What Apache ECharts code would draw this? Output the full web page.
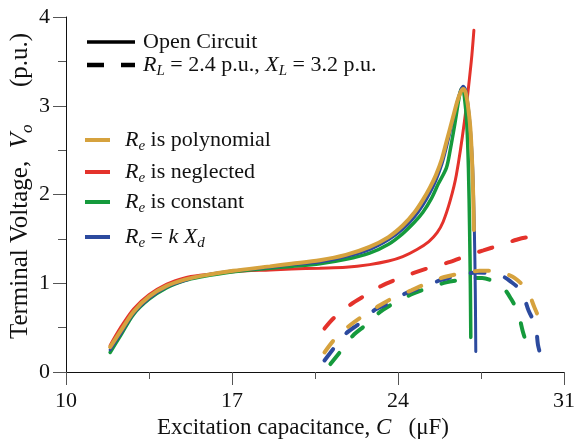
<!DOCTYPE html>
<html>
<head>
<meta charset="utf-8">
<script src="https://cdn.jsdelivr.net/npm/echarts@6/dist/echarts.min.js"></script>
<style>
html,body{margin:0;padding:0;background:#fff;}
#chart{width:577px;height:440px;}
</style>
</head>
<body>
<div id="chart"></div>
<script>
// ---- axis ticks ----
const xTicks = [10, 17, 24, 31];
const yTicks = [0, 1, 2, 3, 4];

// ---- open circuit (solid) curves: [C (uF), Vo (p.u.)] ----
const ocPolynomial = [[11.86,0.28],[12.3,0.46],[12.85,0.68],[13.5,0.85],[14.25,0.97],[15.0,1.04],[15.65,1.08],[17.05,1.14],[18.6,1.19],[19.5,1.22],[20.7,1.26],[21.8,1.32],[22.8,1.41],[23.6,1.52],[24.2,1.65],[24.7,1.80],[25.05,1.94],[25.35,2.08],[25.6,2.22],[25.85,2.40],[26.05,2.60],[26.3,2.85],[26.5,3.05],[26.65,3.16],[26.75,3.19],[26.85,3.15],[26.95,3.00],[27.05,2.75],[27.12,2.40],[27.17,2.00],[27.2,1.60]];
const ocNeglected = [[11.86,0.30],[12.3,0.50],[12.85,0.71],[13.5,0.87],[14.25,0.99],[15.0,1.06],[15.65,1.09],[17.05,1.13],[18.6,1.15],[19.5,1.16],[20.7,1.17],[21.8,1.18],[22.8,1.21],[23.6,1.25],[24.2,1.30],[24.8,1.38],[25.3,1.47],[25.65,1.57],[25.9,1.69],[26.2,1.93],[26.46,2.22],[26.8,2.82],[27.09,3.50],[27.2,3.85]];
const ocConstant = [[11.86,0.22],[12.3,0.41],[12.85,0.65],[13.5,0.82],[14.25,0.95],[15.0,1.03],[15.65,1.07],[17.05,1.13],[18.6,1.17],[19.5,1.19],[20.7,1.22],[21.8,1.27],[22.8,1.34],[23.6,1.44],[24.2,1.56],[24.7,1.69],[25.05,1.80],[25.4,1.95],[25.7,2.12],[26.04,2.30],[26.2,2.50],[26.4,2.80],[26.55,3.05],[26.65,3.18],[26.72,3.20],[26.8,3.10],[26.9,2.80],[26.97,2.30],[27.02,1.60],[27.05,1.00],[27.07,0.39]];
const ocKXd = [[11.86,0.25],[12.3,0.43],[12.85,0.66],[13.5,0.83],[14.25,0.96],[15.0,1.03],[15.65,1.08],[17.05,1.14],[18.6,1.18],[19.5,1.21],[20.7,1.24],[21.8,1.30],[22.8,1.38],[23.6,1.49],[24.2,1.61],[24.7,1.75],[25.05,1.88],[25.35,2.02],[25.6,2.16],[25.85,2.34],[26.05,2.54],[26.3,2.82],[26.5,3.05],[26.65,3.18],[26.75,3.22],[26.85,3.18],[26.95,3.02],[27.05,2.75],[27.15,2.30],[27.22,1.60],[27.26,0.90],[27.28,0.23]];

// ---- loaded (dashed) curves, RL = 2.4 p.u., XL = 3.2 p.u. ----
const ldPolynomial = [[20.9,0.22],[21.3,0.36],[21.9,0.51],[22.46,0.62],[23.16,0.74],[23.76,0.83],[24.56,0.92],[25.16,0.99],[25.96,1.07],[26.67,1.11],[27.1,1.13],[27.44,1.14],[28.14,1.14],[28.5,1.11],[28.91,1.06],[29.43,0.93],[29.75,0.73],[29.99,0.58]];
const ldNeglected = [[20.9,0.49],[21.3,0.61],[22.0,0.76],[22.6,0.86],[23.3,0.97],[23.9,1.04],[24.7,1.12],[25.4,1.18],[26.2,1.24],[26.9,1.31],[27.6,1.37],[28.3,1.43],[29.0,1.49],[29.4,1.515],[29.75,1.52]];
const ldConstant = [[21.15,0.09],[21.57,0.23],[22.1,0.41],[22.64,0.53],[23.26,0.68],[23.86,0.78],[24.6,0.88],[25.22,0.94],[26.03,1.01],[26.7,1.04],[27.1,1.06],[27.55,1.06],[28.17,1.00],[28.5,0.93],[28.73,0.84],[29.05,0.68],[29.26,0.46],[29.47,0.28]];
const ldKXd = [[20.9,0.13],[21.3,0.27],[21.83,0.44],[22.39,0.55],[23.02,0.70],[23.65,0.78],[24.35,0.89],[24.98,0.95],[25.85,1.04],[26.6,1.09],[27.3,1.12],[28.0,1.11],[28.4,1.08],[28.7,1.03],[29.2,0.91],[29.51,0.69],[29.8,0.52],[29.9,0.31],[29.99,0.21]];

const FONT = '"Liberation Serif", "Times New Roman", Times, "DejaVu Serif", serif';
const C_GOLD = '#D6A23E', C_RED = '#E4322B', C_GREEN = '#159A3C', C_BLUE = '#2C4A9E';

function makeRich(fs, sfs, lh) {
  return {
    n: {fontFamily: FONT, fontSize: fs, color: '#111', lineHeight: lh},
    i: {fontFamily: FONT, fontSize: fs, color: '#111', fontStyle: 'italic', lineHeight: lh},
    s: {fontFamily: FONT, fontSize: sfs, color: '#111', fontStyle: 'italic', lineHeight: sfs, verticalAlign: 'bottom'}
  };
}
const richLegend = makeRich(22, 15, 28);

function solid(name, data, color, w, z) {
  return {name, type: 'line', data, smooth: 0.3, showSymbol: false, symbol: 'none', z,
    lineStyle: {color, width: w, cap: 'round'}, silent: true, animation: false};
}
function dashed(name, data, color, z) {
  return {name, type: 'line', data, smooth: 0.3, showSymbol: false, symbol: 'none', z,
    lineStyle: {color, width: 4, type: [14, 21], cap: 'round'}, silent: true, animation: false};
}

function legendLine(x1, x2, y, color, dash, w) {
  return {type: 'line', shape: {x1, y1: y, x2, y2: y}, silent: true,
    style: {stroke: color, lineWidth: w, lineDash: dash || null}};
}
function legendText(x, y, text) {
  return {type: 'text', x, y, silent: true,
    style: {text, rich: richLegend, verticalAlign: 'middle', align: 'left', font: '22px ' + FONT, fill: '#111'}};
}

const chart = echarts.init(document.getElementById('chart'), null, {renderer: 'canvas'});
chart.setOption({
  animation: false,
  backgroundColor: '#fff',
  textStyle: {fontFamily: FONT},
  grid: {left: 66, right: 13, top: 17, bottom: 68, containLabel: false, outerBoundsMode: 'none'},
  xAxis: {
    type: 'value', min: xTicks[0], max: xTicks[xTicks.length - 1], interval: 7,
    name: '{n|Excitation capacitance, }{i|C}{n|   (μF)}',
    nameLocation: 'middle', nameGap: 37,
    nameTextStyle: {fontFamily: FONT, fontSize: 23, rich: makeRich(23, 16, 28), padding: [0, 24, 0, 0]},
    axisLine: {show: true, onZero: false, lineStyle: {color: '#111', width: 1}},
    axisTick: {show: true, length: 13, lineStyle: {color: '#555', width: 1}},
    minorTick: {show: true, splitNumber: 2, length: 7, lineStyle: {color: '#555', width: 1}},
    splitLine: {show: false},
    axisLabel: {fontFamily: FONT, fontSize: 22, color: '#111', margin: 18}
  },
  yAxis: {
    type: 'value', min: yTicks[0], max: yTicks[yTicks.length - 1], interval: 1,
    axisLine: {show: true, onZero: false, lineStyle: {color: '#111', width: 1}},
    axisTick: {show: true, length: 13, lineStyle: {color: '#555', width: 1}},
    minorTick: {show: true, splitNumber: 2, length: 8, lineStyle: {color: '#555', width: 1}},
    splitLine: {show: false},
    axisLabel: {fontFamily: FONT, fontSize: 22, color: '#111', margin: 16}
  },
  series: [
    solid('OC neglected', ocNeglected, C_RED, 3, 2),
    solid('OC constant', ocConstant, C_GREEN, 3.5, 3),
    solid('OC kXd', ocKXd, C_BLUE, 3, 4),
    solid('OC polynomial', ocPolynomial, C_GOLD, 4, 5),
    dashed('Load neglected', ldNeglected, C_RED, 2),
    dashed('Load constant', ldConstant, C_GREEN, 3),
    dashed('Load kXd', ldKXd, C_BLUE, 4),
    dashed('Load polynomial', ldPolynomial, C_GOLD, 5)
  ],
  graphic: [
    {type: 'text', x: 20, y: 186, rotation: Math.PI / 2, silent: true,
      style: {text: '{n|Terminal Voltage,  }{i|V}{s|o}{n|      (p.u.)}', rich: makeRich(25, 17, 32),
        align: 'center', verticalAlign: 'middle', font: '25px ' + FONT, fill: '#111'}},
    legendLine(87, 135, 42, '#000', null, 3.5),
    legendText(143, 42, '{n|Open Circuit}'),
    legendLine(87, 135, 65, '#000', [17, 17], 4.5),
    legendText(143, 65, '{i|R}{s|L}{n| = 2.4 p.u., }{i|X}{s|L}{n| = 3.2 p.u.}'),
    legendLine(85, 110, 140, C_GOLD, null, 4),
    legendText(125, 140, '{i|R}{s|e}{n| is polynomial}'),
    legendLine(85, 110, 172, C_RED, null, 4),
    legendText(125, 172, '{i|R}{s|e}{n| is neglected}'),
    legendLine(85, 110, 202, C_GREEN, null, 4),
    legendText(125, 202, '{i|R}{s|e}{n| is constant}'),
    legendLine(85, 110, 237, C_BLUE, null, 4),
    legendText(125, 237, '{i|R}{s|e}{n| = }{i|k X}{s|d}')
  ]
});
</script>
</body>
</html>
